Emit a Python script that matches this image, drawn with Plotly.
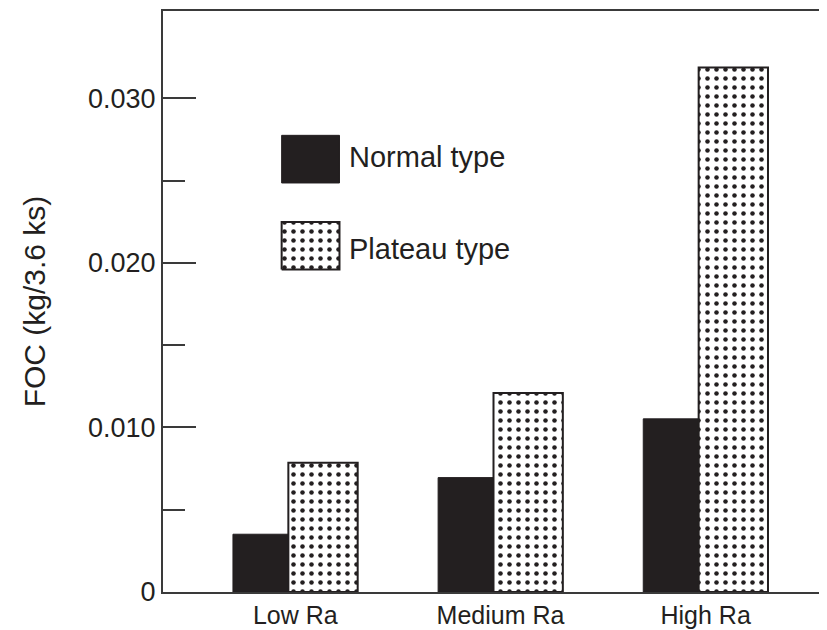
import plotly.graph_objects as go

categories = ["Low Ra", "Medium Ra", "High Ra"]
normal_type = [0.00351, 0.00695, 0.01052]
plateau_type = [0.00786, 0.01209, 0.03186]
y_tick_vals = [0, 0.010, 0.020, 0.030]
y_tick_text = ["0", "0.010", "0.020", "0.030"]
y_minor_vals = [0.005, 0.015, 0.025]

INK = "#231f20"
AX = "#3a3a3a"
FONT = "Liberation Sans"

fig = go.Figure()
fig.add_trace(go.Bar(
    x=categories, y=normal_type, name="Normal type",
    offset=-0.304, width=0.27,
    marker=dict(color=INK, line=dict(color=INK, width=1)),
    showlegend=False,
))
fig.add_trace(go.Bar(
    x=categories, y=plateau_type, name="Plateau type",
    offset=-0.034, width=0.338,
    marker=dict(color="white", line=dict(color=INK, width=2),
                pattern=dict(shape=".", size=9, solidity=0.2,
                             fgcolor=INK, bgcolor="white", fillmode="replace")),
    showlegend=False,
))

# custom legend swatches (large boxes as in the reference)
sw_x = [0.1795, 0.267, 0.267, 0.1795, 0.1795]
fig.add_trace(go.Scatter(
    x=sw_x, y=[0.704, 0.704, 0.786, 0.786, 0.704],
    xaxis="x2", yaxis="y2", mode="lines", fill="toself",
    fillcolor=INK, line=dict(color=INK, width=1),
    hoverinfo="skip", showlegend=False,
))
fig.add_trace(go.Scatter(
    x=sw_x, y=[0.555, 0.555, 0.637, 0.637, 0.555],
    xaxis="x2", yaxis="y2", mode="lines", fill="toself",
    fillcolor="white", line=dict(color=INK, width=2),
    fillpattern=dict(shape=".", size=9, solidity=0.2,
                     fgcolor=INK, bgcolor="white", fillmode="replace"),
    hoverinfo="skip", showlegend=False,
))

fig.add_annotation(x=0.279, y=0.748, xref="paper", yref="paper",
                   text="Normal type", showarrow=False, xanchor="left",
                   yanchor="middle", font=dict(size=29, color=INK, family=FONT))
fig.add_annotation(x=0.279, y=0.591, xref="paper", yref="paper",
                   text="Plateau type", showarrow=False, xanchor="left",
                   yanchor="middle", font=dict(size=29, color=INK, family=FONT))

fig.update_layout(
    width=819, height=622,
    margin=dict(l=155, r=1, t=1, b=38),
    paper_bgcolor="white", plot_bgcolor="white",
    barmode="overlay",
    font=dict(family=FONT, size=25, color=INK),
    xaxis=dict(
        range=[-0.645, 2.577], showgrid=False, zeroline=False,
        showline=True, linecolor=AX, linewidth=2, mirror=True,
        ticks="", tickfont=dict(size=25, color=INK, family=FONT),
        fixedrange=True,
    ),
    yaxis=dict(
        range=[0, 0.0353], showgrid=False, zeroline=False,
        showline=True, linecolor=AX, linewidth=2, mirror=True,
        tickmode="array", tickvals=y_tick_vals, ticktext=y_tick_text,
        ticks="inside", ticklen=33, tickwidth=2, tickcolor=AX,
        tickfont=dict(size=27, color=INK, family=FONT),
        minor=dict(tickmode="array", tickvals=y_minor_vals, ticks="inside",
                   ticklen=22, tickwidth=2, tickcolor=AX, showgrid=False),
        title=dict(text="FOC (kg/3.6 ks)", standoff=34,
                   font=dict(size=30, color=INK, family=FONT)),
    ),
    xaxis2=dict(overlaying="x", range=[0, 1], visible=False, fixedrange=True),
    yaxis2=dict(overlaying="y", range=[0, 1], visible=False, fixedrange=True),
)

fig.write_html("out.html")
